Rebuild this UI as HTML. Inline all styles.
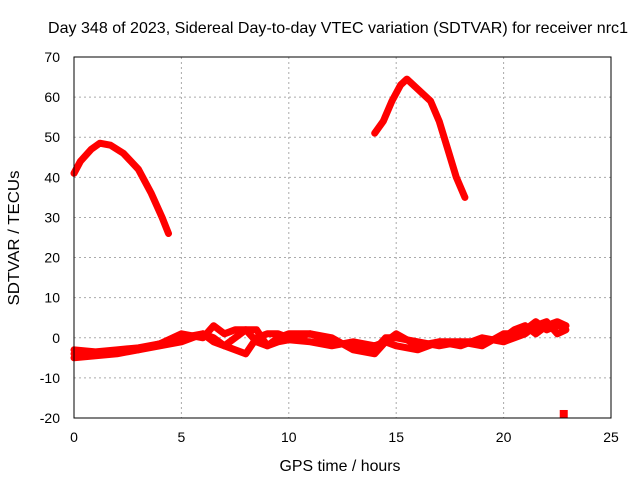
<!DOCTYPE html>
<html><head><meta charset="utf-8"><style>
body{margin:0;background:#fff}
svg{display:block;font-family:"Liberation Sans",sans-serif;font-size:14px}
</style></head><body>
<svg id="c" width="640" height="480">
<text x="338" y="33" text-anchor="middle" font-size="16" textLength="580" lengthAdjust="spacingAndGlyphs">Day 348 of 2023, Sidereal Day-to-day VTEC variation (SDTVAR) for receiver nrc1</text>
<text x="340" y="471" text-anchor="middle" font-size="16" textLength="121" lengthAdjust="spacingAndGlyphs">GPS time / hours</text>
<text transform="translate(19,238) rotate(-90)" text-anchor="middle" font-size="16" textLength="135" lengthAdjust="spacingAndGlyphs">SDTVAR / TECUs</text>
<g id="grid"></g><g id="marks"></g>
<rect x="74" y="57" width="537" height="361" fill="none" stroke="#000"/>
</svg>
<script>
const xTicks=[0,5,10,15,20,25];
const yTicks=[-20,-10,0,10,20,30,40,50,60,70];
const arc1X=[0,0.3,0.8,1.2,1.7,2.3,3.0,3.6,4.1,4.4];
const arc1Y=[41,44,47,48.5,48,46,42,36,30,26];
const arc2X=[14,14.4,14.8,15.2,15.5,16,16.6,17,17.4,17.8,18.2];
const arc2Y=[51,54,59,63,64.5,62,59,54,47,40,35];
const lowX=[0,1,2,3,4,5,6,6.5,7,7.5,8,8.5,9,9.5,10,11,12,13,14,14.5,15,16,17,18,19,20,20.5,21,21.5,22,22.5,22.9];
const lowA=[-4,-4,-3.5,-3,-2,-1,1,0,-2,-3,-4,0,1,1,0,1,-1,-2,-3,0,0,-1,-2,-1,-1,0,2,3,1,3,4,3];
const lowB=[-5,-4.5,-4,-3,-1.5,1,0,3,1,2,2,-1,-2,-1,-0.5,-1,-2,-1,-2,-1,-2,-3,-1,-1,-2,1,1,2,4,2,3,3];
const lowC=[-3,-3.5,-3,-2.5,-1.5,0,1,-1,-2,0,2,2,-2,0,1,1,0,-3,-4,-1,1,-2,-1,-2,0,-1,0,1,3,4,1,2];
const dotX=[22.8], dotY=[-19];
const sx=v=>74+v*537/25, sy=v=>418-(v+20)*361/90;
const NS='http://www.w3.org/2000/svg';
const grid=document.getElementById('grid'), marks=document.getElementById('marks');
function mk(t,a,p){const e=document.createElementNS(NS,t);for(const k in a)e.setAttribute(k,a[k]);p.appendChild(e);return e;}
xTicks.forEach(v=>{const x=sx(v);
 if(v>0&&v<25){const l=mk('line',{x1:x,x2:x,y1:57,y2:418,stroke:'#aaa','stroke-dasharray':'2,3'},grid);
 
 }
 const t=mk('text',{x:x,y:442,'text-anchor':'middle'},grid);t.textContent=v;
 
 });
yTicks.forEach(v=>{const y=sy(v);
 if(v>-20&&v<70){const l=mk('line',{x1:74,x2:611,y1:y,y2:y,stroke:'#aaa','stroke-dasharray':'2,3'},grid);
 
 }
 const t=mk('text',{x:60,y:y+5,'text-anchor':'end'},grid);t.textContent=v;
 
 });
function line(xs,ys,name,w){const d=xs.map((x,i)=>(i?'L':'M')+sx(x).toFixed(1)+','+sy(ys[i]).toFixed(1)).join('');
 const p=mk('path',{d:d,fill:'none',stroke:'#f00','stroke-width':w,'stroke-linejoin':'round','stroke-linecap':'round'},marks);
 
 }
line(arc1X,arc1Y,'series-arc-1',7);
line(arc2X,arc2Y,'series-arc-2',7);
line(lowX,lowA,'series-low-a',7);
line(lowX,lowB,'series-low-b',7);
line(lowX,lowC,'series-low-c',7);
dotX.forEach((x,i)=>{const r=mk('rect',{x:sx(x)-4,y:sy(dotY[i])-4,width:8,height:8,fill:'#f00'},marks);
 
 });
</script>
</body></html>
